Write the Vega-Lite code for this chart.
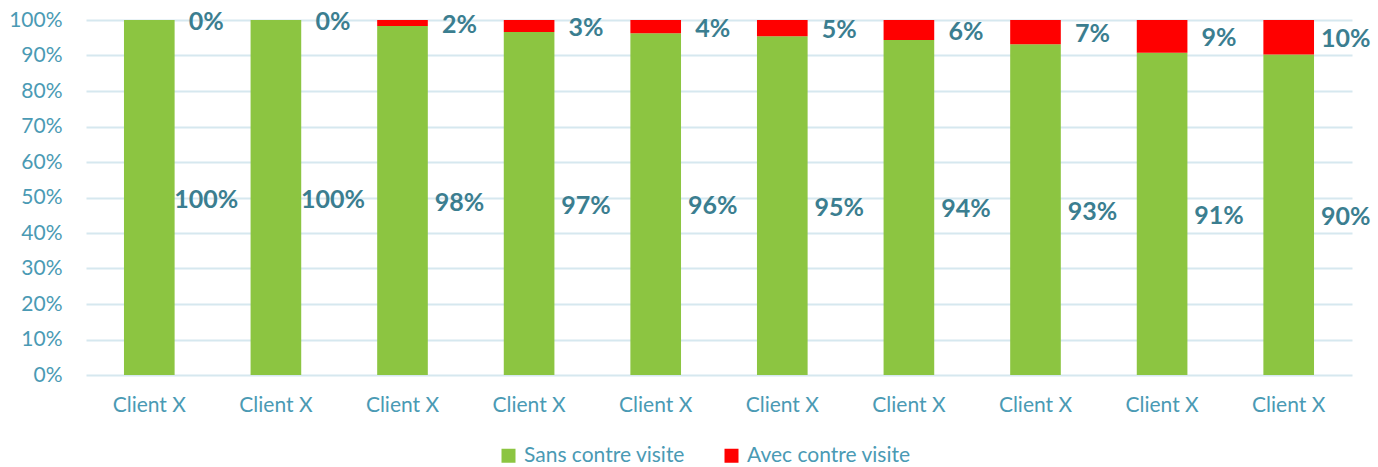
{
  "$schema": "https://vega.github.io/schema/vega-lite/v6.json",
  "width": 1266,
  "height": 355,
  "autosize": "none",
  "padding": {"left": 86, "top": 20, "right": 26, "bottom": 92},
  "background": "white",
  "config": {
    "view": {"stroke": null},
    "font": "Lato"
  },
  "data": {
    "values": [
      {"id": 1, "client": "Client X", "serie": "Sans contre visite", "ord": 1, "value": 1.0},
      {"id": 1, "client": "Client X", "serie": "Avec contre visite", "ord": 2, "value": 0.0},
      {"id": 2, "client": "Client X", "serie": "Sans contre visite", "ord": 1, "value": 1.0},
      {"id": 2, "client": "Client X", "serie": "Avec contre visite", "ord": 2, "value": 0.0},
      {"id": 3, "client": "Client X", "serie": "Sans contre visite", "ord": 1, "value": 0.983},
      {"id": 3, "client": "Client X", "serie": "Avec contre visite", "ord": 2, "value": 0.017},
      {"id": 4, "client": "Client X", "serie": "Sans contre visite", "ord": 1, "value": 0.966},
      {"id": 4, "client": "Client X", "serie": "Avec contre visite", "ord": 2, "value": 0.034},
      {"id": 5, "client": "Client X", "serie": "Sans contre visite", "ord": 1, "value": 0.963},
      {"id": 5, "client": "Client X", "serie": "Avec contre visite", "ord": 2, "value": 0.037},
      {"id": 6, "client": "Client X", "serie": "Sans contre visite", "ord": 1, "value": 0.954},
      {"id": 6, "client": "Client X", "serie": "Avec contre visite", "ord": 2, "value": 0.046},
      {"id": 7, "client": "Client X", "serie": "Sans contre visite", "ord": 1, "value": 0.944},
      {"id": 7, "client": "Client X", "serie": "Avec contre visite", "ord": 2, "value": 0.056},
      {"id": 8, "client": "Client X", "serie": "Sans contre visite", "ord": 1, "value": 0.932},
      {"id": 8, "client": "Client X", "serie": "Avec contre visite", "ord": 2, "value": 0.068},
      {"id": 9, "client": "Client X", "serie": "Sans contre visite", "ord": 1, "value": 0.908},
      {"id": 9, "client": "Client X", "serie": "Avec contre visite", "ord": 2, "value": 0.092},
      {"id": 10, "client": "Client X", "serie": "Sans contre visite", "ord": 1, "value": 0.903},
      {"id": 10, "client": "Client X", "serie": "Avec contre visite", "ord": 2, "value": 0.097}
    ]
  },
  "transform": [
    {"stack": "value", "groupby": ["id"], "sort": [{"field": "ord", "order": "ascending"}], "as": ["v0", "v1"]},
    {"calculate": "(datum.v0 + datum.v1) / 2", "as": "mid"}
  ],
  "encoding": {
    "x": {
      "field": "id",
      "type": "ordinal",
      "title": null,
      "scale": {"paddingInner": 0.6, "paddingOuter": 0.3},
      "axis": {
        "labelExpr": "'Client X'",
        "labelAngle": 0,
        "labelFont": "Lato",
        "labelFontSize": 21,
        "labelColor": "#4A9AB4",
        "labelPadding": 19,
        "ticks": false,
        "domain": false,
        "grid": false
      }
    }
  },
  "layer": [
    {
      "mark": {"type": "bar"},
      "encoding": {
        "y": {
          "field": "v0",
          "type": "quantitative",
          "title": null,
          "scale": {"domain": [0, 1]},
          "axis": {
            "values": [0, 0.1, 0.2, 0.3, 0.4, 0.5, 0.6, 0.7, 0.8, 0.9, 1.0],
            "format": ".0%",
            "labelOverlap": false,
            "labelFont": "Lato",
            "labelFontSize": 21,
            "labelColor": "#4A9AB4",
            "labelPadding": 24,
            "ticks": false,
            "domain": false,
            "grid": true,
            "gridColor": "#D6E8EF",
            "gridWidth": 2
          }
        },
        "y2": {"field": "v1"},
        "color": {
          "field": "serie",
          "type": "nominal",
          "scale": {
            "domain": ["Sans contre visite", "Avec contre visite"],
            "range": ["#8CC541", "#FF0000"]
          },
          "legend": {
            "title": null,
            "orient": "none",
            "direction": "horizontal",
            "legendX": 412,
            "legendY": 425,
            "symbolType": "square",
            "symbolSize": 196,
            "symbolStrokeWidth": 0,
            "labelFont": "Lato",
            "labelFontSize": 21,
            "labelColor": "#4A9AB4",
            "labelOffset": 5,
            "columnPadding": 36,
            "labelLimit": 300
          }
        }
      }
    },
    {
      "mark": {
        "type": "text",
        "dx": 57,
        "dy": 2,
        "font": "Lato",
        "fontSize": 25,
        "fontWeight": "bold",
        "color": "#3B7E90",
        "align": "center",
        "baseline": "middle"
      },
      "encoding": {
        "y": {
          "field": "mid",
          "type": "quantitative",
          "title": null,
          "scale": {"domain": [0, 1]},
          "axis": {
            "values": [0, 0.1, 0.2, 0.3, 0.4, 0.5, 0.6, 0.7, 0.8, 0.9, 1.0],
            "format": ".0%",
            "labelOverlap": false,
            "labelFont": "Lato",
            "labelFontSize": 21,
            "labelColor": "#4A9AB4",
            "labelPadding": 24,
            "ticks": false,
            "domain": false,
            "grid": true,
            "gridColor": "#D6E8EF",
            "gridWidth": 2
          }
        },
        "text": {"field": "value", "type": "quantitative", "format": ".0%"}
      }
    }
  ]
}
